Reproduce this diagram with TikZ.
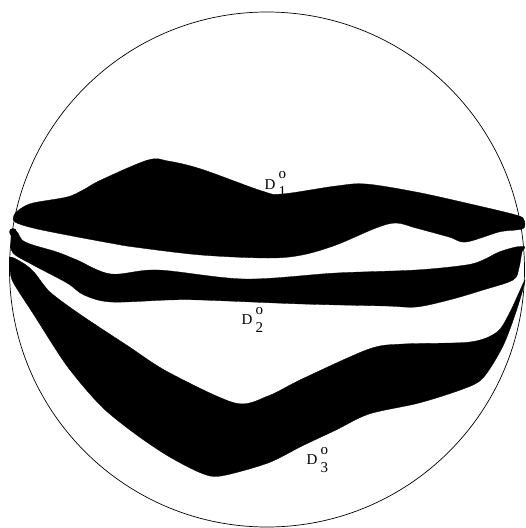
\documentclass[tikz,border=0pt]{standalone}
\usepackage{fontspec}
\setmainfont{Liberation Serif}
\newcommand{\dlab}[1]{D\hspace{3pt}\makebox[0pt][l]{\raisebox{10.5pt}{o}}\raisebox{-7.5pt}{#1}}
\begin{document}
\begin{tikzpicture}[x=1pt,y=-1pt,
  band/.style={fill=black, draw=black, line width=0.3pt},
  lab/.style={font=\fontsize{15}{17}\selectfont, inner sep=0pt, anchor=base west}]
\useasboundingbox (0,0) rectangle (526,528);
\draw[line width=0.7pt] (267,269.5) circle[radius=257.5pt];
% labels
\node[lab] (l1) at (264.5,189) {\dlab{1}};
\node[lab] (l2) at (241.5,324.5) {\dlab{2}};
\node[lab] (l3) at (306.5,464.5) {\dlab{3}};
% D1
\path[band] plot[smooth cycle, tension=0.55] coordinates {
 (14,215) (20,209) (33,203) (67,197) (83,190) (101,180) (148,160) (168,161)
 (201,169) (262,191) (282,194) (336,186) (366,184) (416,192) (466,203) (516,215) (524,220)
 (524,228) (516,230) (499,232) (466,242) (449,237) (416,228) (396,223) (376,228)
 (336,245) (302,255) (268,258) (201,255) (134,247) (110,243) (67,235) (33,228) (15,222)};
% D2
\fill (13,232) circle[radius=3.8pt];
\path[band] plot[smooth cycle, tension=0.55] coordinates {
 (12,229) (18,233) (22,240) (33,245) (57,252) (77,260) (111,274) (158,270) (245,279)
 (336,273) (416,270) (466,265) (483,260) (499,252) (516,247) (525,247)
 (522,252) (519,268) (513,280) (483,290) (449,300) (416,307) (386,306)
 (302,304) (201,300) (168,300) (111,302) (84,295) (67,283) (33,265) (13,253) (11,240)};
% D3
\path[band] plot[smooth cycle, tension=0.5] coordinates {
 (10,257) (23,263) (34,272) (50,292) (81,315) (128,346) (168,372) (235,403)
 (268,396) (302,379) (369,349) (403,344) (470,342) (497,332) (510,312) (525,280)
 (517,309) (503,346) (483,378) (463,389) (419,403) (369,414) (336,430) (302,446)
 (268,463) (221,476) (201,473) (168,456) (134,433) (101,406) (67,366) (34,315) (13,282) (10,268)};
\end{tikzpicture}
\end{document}
